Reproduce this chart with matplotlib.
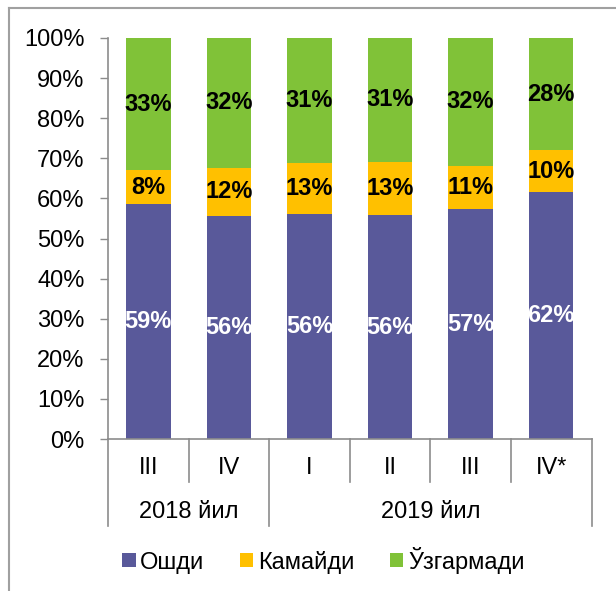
import matplotlib.pyplot as plt
import numpy as np

plt.rcParams["font.family"] = ["Liberation Sans", "DejaVu Sans"]

QUARTERS = ["III", "IV", "I", "II", "III", "IV*"]
YEARS = ["2018 йил", "2019 йил"]
YEAR_SPANS = [(0, 2), (2, 6)]
SERIES = ["Ошди", "Камайди", "Ўзгармади"]
OSHDI = [58.6, 55.6, 56.1, 55.8, 57.3, 61.6]
KAMAYDI = [8.4, 12.1, 12.8, 13.3, 10.8, 10.4]
UZGARMADI = [33.0, 32.3, 31.1, 30.9, 31.9, 28.0]
COLORS = ["#59599A", "#FFC000", "#80C238"]
LABEL_COLORS = ["white", "black", "black"]

FS = 17
GRAY = "#8C8C8C"


def main():
    fig = plt.figure(figsize=(6.16, 5.91), dpi=100)
    ax = fig.add_axes([108 / 616, 1 - 439 / 591, (591.5 - 108) / 616, 401 / 591])

    x = np.arange(len(QUARTERS)) + 0.5
    bottom = np.zeros(len(QUARTERS))
    for name, vals, color, lc in zip(SERIES, [OSHDI, KAMAYDI, UZGARMADI], COLORS, LABEL_COLORS):
        vals = np.array(vals)
        ax.bar(x, vals, 0.553, bottom=bottom, color=color, label=name, linewidth=0)
        for xi, b, v in zip(x, bottom, vals):
            ax.text(xi, b + v / 2, f"{v:.0f}%", ha="center", va="center",
                    fontsize=FS, fontweight="bold", color=lc)
        bottom += vals

    ax.set_xlim(0, 6)
    ax.set_ylim(0, 100)
    ax.set_yticks(np.arange(0, 101, 10))
    ax.set_yticklabels([f"{v}%" for v in range(0, 101, 10)], fontsize=FS)
    ax.tick_params(axis="y", length=6, width=1, color=GRAY, pad=11)
    ax.set_xticks([])
    for s in ["top", "right"]:
        ax.spines[s].set_visible(False)
    for s in ["left", "bottom"]:
        ax.spines[s].set_color(GRAY)
        ax.spines[s].set_linewidth(1.2)

    # multi-level category axis
    tr = ax.get_xaxis_transform()
    short_y = -42.7 / 401
    long_y = -87 / 401
    for xv in range(7):
        yend = long_y if xv in (0, 2, 6) else short_y
        ax.plot([xv, xv], [0, yend], color=GRAY, lw=1.2, transform=tr, clip_on=False)
    for xi, q in zip(x, QUARTERS):
        ax.text(xi, -29 / 401, q, transform=tr, ha="center", va="center", fontsize=FS)
    for (a, b), yr in zip(YEAR_SPANS, YEARS):
        ax.text((a + b) / 2, -72.7 / 401, yr, transform=tr, ha="center", va="center", fontsize=FS)

    fig.legend(loc="center", bbox_to_anchor=(0.525, 1 - 560 / 591), ncol=3, frameon=False,
               fontsize=FS, handlelength=0.57, handleheight=0.57, handletextpad=0.2,
               columnspacing=1.5)

    # outer chart frame (left and top edges)
    fig.add_artist(plt.Line2D([9 / 616, 9 / 616], [0, 1 - 8 / 591], color="#A0A0A0", lw=1.5))
    fig.add_artist(plt.Line2D([9 / 616, 1], [1 - 8 / 591, 1 - 8 / 591], color="#A0A0A0", lw=1.5))

    fig.savefig("out.png", dpi=100)


if __name__ == "__main__":
    main()
